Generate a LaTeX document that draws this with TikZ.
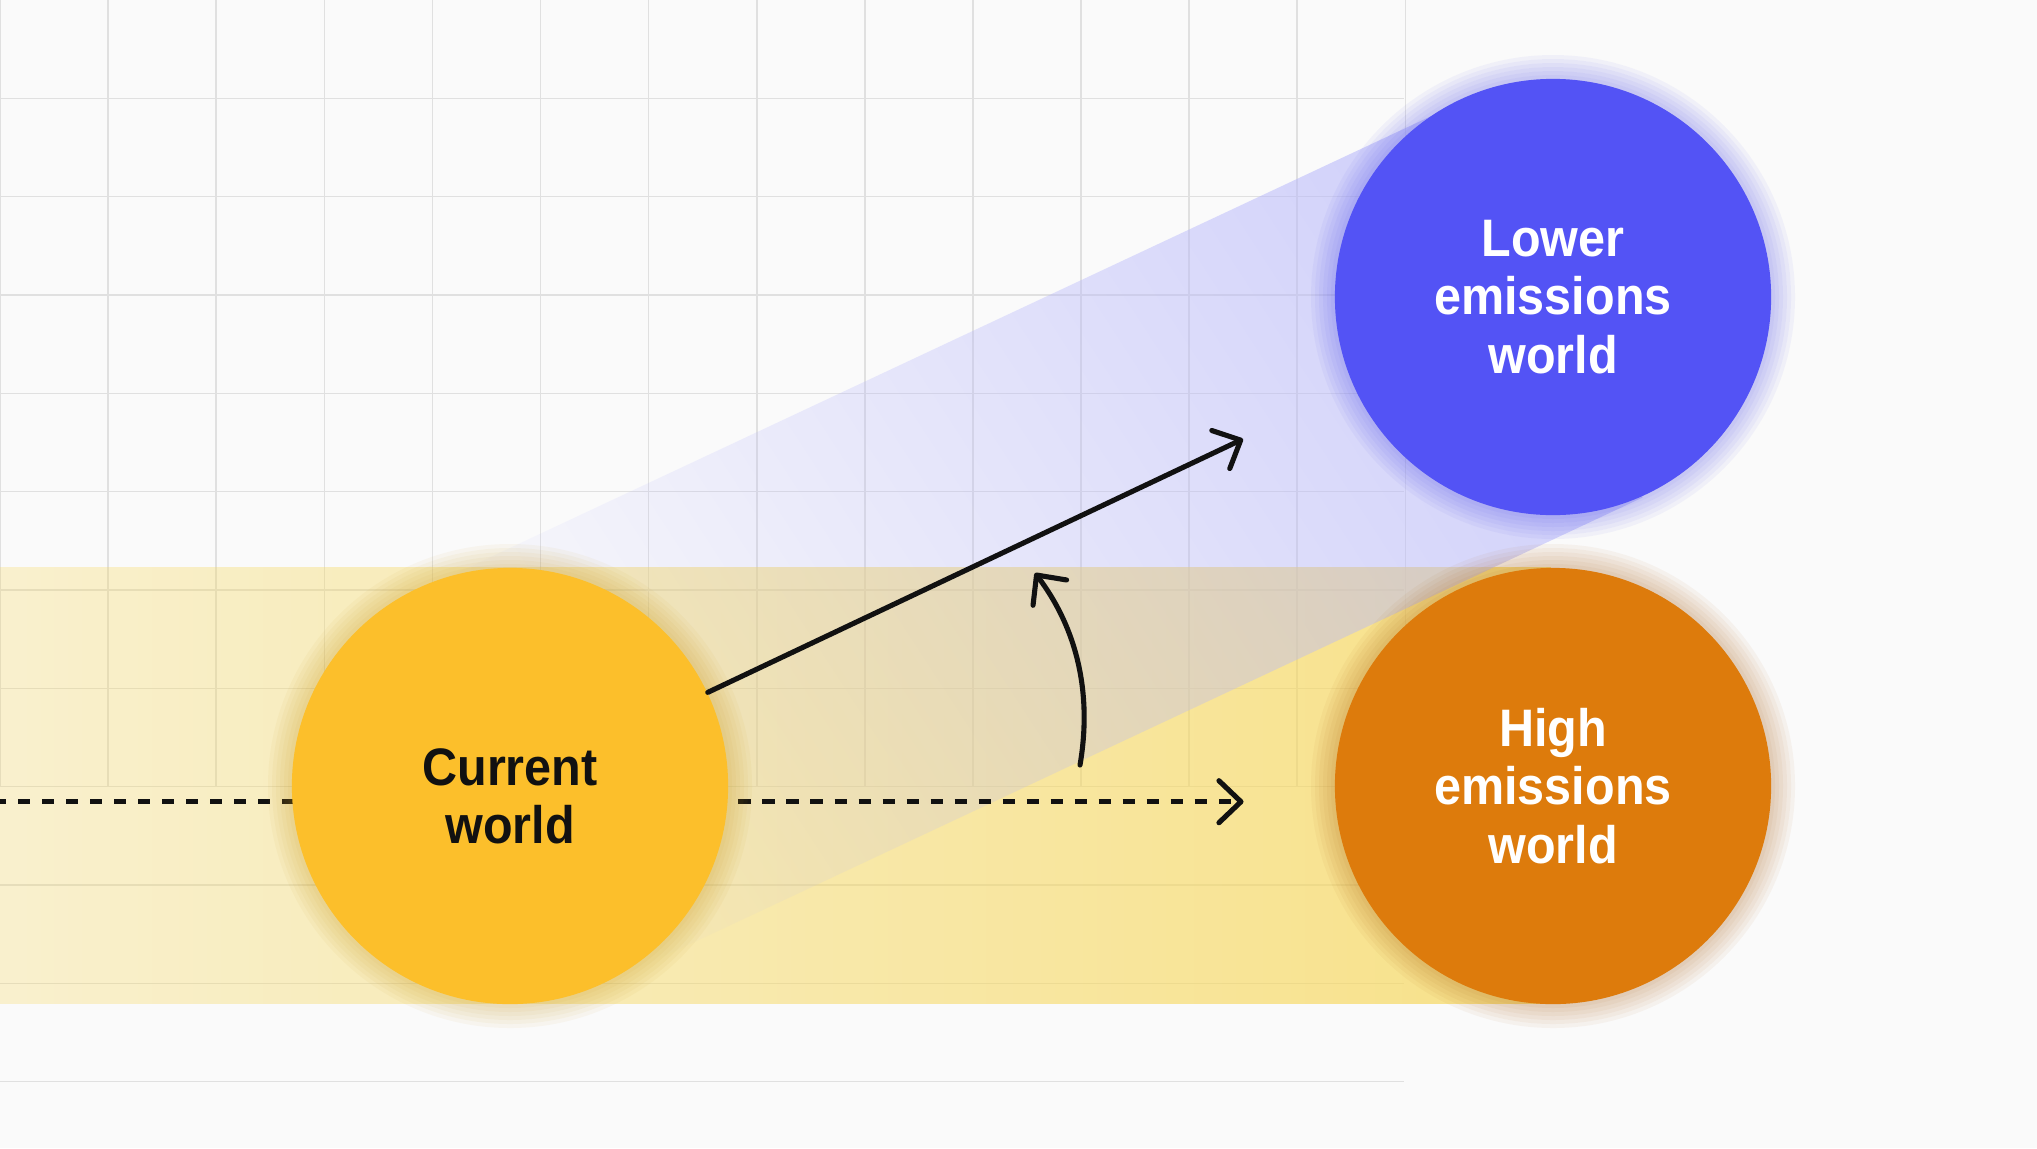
\documentclass[tikz,border=0pt]{standalone}
\usepackage{fontspec}
\setmainfont{Liberation Sans}[FakeStretch=0.92]
\usetikzlibrary{arrows.meta,calc,fadings}
\definecolor{bgc}{HTML}{FAFAFA}
\definecolor{gridc}{HTML}{E0E0E0}
\definecolor{curc}{HTML}{FCBF2B}
\definecolor{lowc}{HTML}{5353F5}
\definecolor{highc}{HTML}{DD7B0C}
\definecolor{bandy}{RGB}{247,216,93}
\definecolor{bandb}{RGB}{185,185,250}
\definecolor{curglow}{RGB}{200,150,20}
\definecolor{lowglow}{RGB}{70,70,230}
\definecolor{highglow}{RGB}{170,90,10}
\definecolor{ink}{HTML}{111111}
\tikzfading[name=yfade, left color=transparent!72, middle color=transparent!36, right color=transparent!28]
\tikzfading[name=bfade, left color=transparent!100, right color=transparent!35]
\pgfdeclarelayer{back}
\pgfsetlayers{back,main}
\begin{document}
\begin{tikzpicture}[x=0.01cm, y=-0.01cm,
  world/.style={circle, minimum size=4.36cm, inner sep=0pt, align=center,
    font=\fontsize{15}{16.6}\selectfont\bfseries},
  gridline/.style={draw=gridc, line width=0.45pt},
  arr/.style={draw=ink, line width=1.45pt, line cap=round,
    -{Straight Barb[length=2.2mm,width=4.2mm,line cap=round,line join=round]}},
  glowring/.style={opacity=0.05}
]
\useasboundingbox (0,0) rectangle (2037,1148);

% centres of the three worlds
\coordinate (pc) at (510,786);
\coordinate (pl) at (1553,297);
\coordinate (ph) at (1553,786);
% free arrow ends
\coordinate (dl) at (0,801.7);
\coordinate (tipH) at (1243.5,801.7);
\coordinate (tipL) at (1243,439);
\coordinate (cs) at (1080,765);
\coordinate (ce) at (1035,573);

\begin{pgfonlayer}{back}
  \fill[bgc] (0,0) rectangle (2037,1148);
  \foreach \k in {0,...,13}
    \draw[gridline] ({\k*108.1},0) -- ({\k*108.1},786.5);
  \foreach \j in {1,...,11}
    \draw[gridline] (0,{\j*98.33}) -- (1404,{\j*98.33});
  % yellow band
  \fill[bandy, path fading=yfade] (0,567) rectangle (1553,1004);
  % blue band
  \fill[bandb, path fading=bfade, fading angle=25.1]
    ($(pc)!2.18cm!90:(pl)$) -- ($(pl)!2.18cm!-90:(pc)$)
    -- ($(pl)!2.18cm!90:(pc)$) -- ($(pc)!2.18cm!-90:(pl)$) -- cycle;
  % dashed path
  \draw[arr, dash pattern=on 0.123cm off 0.117cm, dash phase=0.06cm, line cap=butt] (dl) -- (tipH);
\end{pgfonlayer}

% soft glows
\foreach \c/\col in {pc/curglow, pl/lowglow, ph/highglow}{
  \foreach \i in {1,...,6}{
    \fill[\col, glowring] (\c) circle ({218+4*\i});
  }
}

\node[world, fill=curc, text=ink] (cur) at (pc) {\raisebox{-0.17cm}[\height][\depth]{\begin{tabular}{@{}c@{}}Current\\world\end{tabular}}};
\node[world, fill=lowc, text=white] (low) at (pl) {Lower\\emissions\\world};
\node[world, fill=highc, text=white] (high) at (ph) {High\\emissions\\world};

\draw[arr] (cur) -- (tipL);
\draw[arr] (cs) .. controls (1092,695) and (1078,630) .. (ce);
\end{tikzpicture}
\end{document}
